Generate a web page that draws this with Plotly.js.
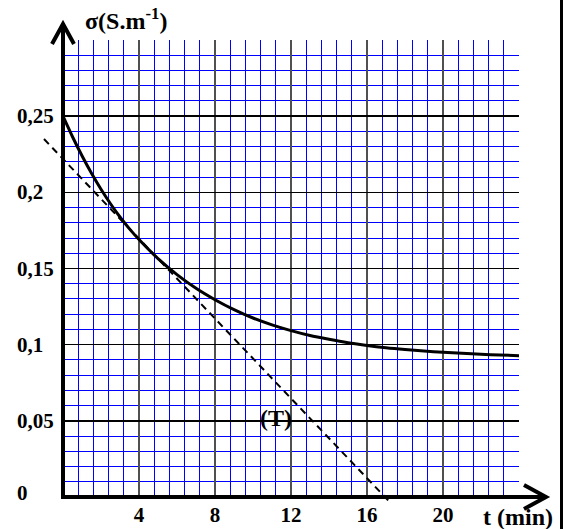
<!DOCTYPE html>
<html>
<head>
<meta charset="utf-8">
<script src="https://cdn.plot.ly/plotly-3.0.1.min.js"></script>
<style>html,body{margin:0;padding:0;background:#fff;}#chart{width:565px;height:529px;}</style>
</head>
<body>
<div id="chart"></div>
<script>
// ---- data ----
const tValues     = [0, 0.5, 1, 1.5, 2, 2.5, 3, 3.5, 4, 5, 6, 7, 8, 9, 10, 11, 12, 13, 14, 15, 16, 17, 18, 19, 20, 21, 22, 23, 24];
const sigmaValues = [0.2500, 0.2365, 0.2240, 0.2125, 0.2020, 0.1925, 0.1838, 0.1760, 0.1690, 0.1565, 0.1460, 0.1370, 0.1295, 0.1230, 0.1175, 0.1130, 0.1092, 0.1060, 0.1035, 0.1013, 0.0995, 0.0980, 0.0968, 0.0958, 0.0950, 0.0943, 0.0937, 0.0932, 0.0928];
const tangentT     = [-1, 17.15];
const tangentSigma = [0.235, -0.0027];
const xMajorStep = 4, xMinorStep = 0.8;
const yMajorStep = 0.05, yMinorStep = 0.01;
const xHiddenLabels = {'0': '', '24': ''};
const yTickVals = [0, 0.05, 0.1, 0.15, 0.2, 0.25];
const yTickText = ['0', '0,05', '0,1', '0,15', '0,2', '0,25'];
const yAxisLabel = 'σ(S.m<sup>-1</sup>)';
const xAxisLabel = 't (min)';
const tangentLabel = '(T)';

// ---- layout geometry ----
const W = 565, H = 529;
const X0 = 63, X1 = 519, Y0 = 497, Y1 = 40;   // plot box in pixels
const xMin = 0, xMax = 24, yMin = 0, yMax = 0.3;
const px = x => x / W;
const py = y => 1 - y / H;
const xPerPx = (xMax - xMin) / (X1 - X0);
const yPerPx = (yMax - yMin) / (Y0 - Y1);
const FONT = 'Liberation Serif, Times New Roman, serif';

const traces = [
  {
    x: tValues, y: sigmaValues, xaxis: 'x', yaxis: 'y',
    mode: 'lines', line: {color: '#000', width: 3, shape: 'spline', smoothing: 0.8},
    cliponaxis: false, hoverinfo: 'skip', showlegend: false
  },
  {
    x: tangentT, y: tangentSigma, xaxis: 'x2', yaxis: 'y2',
    mode: 'lines', line: {color: '#000', width: 2, dash: '7px,5px'},
    hoverinfo: 'skip', showlegend: false
  }
];

const annotations = yTickVals.map((v, i) => ({
  xref: 'paper', yref: 'y', x: px(15), y: v, xanchor: 'left', yanchor: 'middle',
  yshift: v === 0 ? 4 : 0,
  text: yTickText[i], showarrow: false,
  font: {family: FONT, size: 21, color: '#000', weight: 'bold'}
}));

annotations.push({
  xref: 'paper', yref: 'paper', x: px(481), y: py(517), xanchor: 'left', yanchor: 'middle',
  text: xAxisLabel, showarrow: false,
  font: {family: FONT, size: 24, color: '#000', weight: 'bold'}
});
annotations.push({
  xref: 'x', yref: 'y', x: 11.2, y: 0.052, xanchor: 'center', yanchor: 'middle',
  text: tangentLabel, showarrow: false,
  font: {family: FONT, size: 24, color: '#000', weight: 'bold'}
});

const shapes = [
  // vertical axis with arrow
  {type: 'line', xref: 'paper', yref: 'paper', x0: px(63), y0: py(499), x1: px(63), y1: py(25), line: {color: '#000', width: 4}},
  {type: 'path', xref: 'paper', yref: 'paper', path: `M ${px(52)},${py(44)} L ${px(63)},${py(24)} L ${px(74)},${py(44)}`, line: {color: '#000', width: 4}},
  // horizontal axis with arrow
  {type: 'line', xref: 'paper', yref: 'paper', x0: px(61), y0: py(497), x1: px(545), y1: py(497), line: {color: '#000', width: 4}},
  {type: 'path', xref: 'paper', yref: 'paper', path: `M ${px(524)},${py(485)} L ${px(546)},${py(497)} L ${px(524)},${py(509)}`, line: {color: '#000', width: 4}},
  // right frame border
  {type: 'line', xref: 'paper', yref: 'paper', x0: px(561.5), y0: 0, x1: px(561.5), y1: 1, line: {color: '#000', width: 3}}
];

const layout = {
  width: W, height: H,
  margin: {l: 0, r: 0, t: 0, b: 0, pad: 0},
  paper_bgcolor: '#fff', plot_bgcolor: 'rgba(0,0,0,0)',
  showlegend: false,
  title: {
    text: yAxisLabel, x: px(85), xanchor: 'left', y: py(21), yanchor: 'middle',
    font: {family: FONT, size: 24, color: '#000', weight: 'bold'}
  },
  xaxis: {
    domain: [px(X0), px(X1)], range: [xMin, xMax], anchor: 'y',
    tickmode: 'linear', tick0: 0, dtick: xMajorStep, labelalias: xHiddenLabels,
    ticklabelstandoff: 3,
    tickfont: {family: FONT, size: 21, color: '#000', weight: 'bold'},
    showgrid: true, gridcolor: '#505050', gridwidth: 1.5,
    minor: {tickmode: 'linear', tick0: 0, dtick: xMinorStep, showgrid: true, gridcolor: 'blue', gridwidth: 1},
    zeroline: false, showline: false
  },
  yaxis: {
    domain: [py(Y0), py(Y1)], range: [yMin, yMax], anchor: 'x',
    tickmode: 'linear', tick0: 0, dtick: yMajorStep, showticklabels: false,
    showgrid: true, gridcolor: '#000', gridwidth: 1.5,
    minor: {tickmode: 'linear', tick0: 0, dtick: yMinorStep, showgrid: true, gridcolor: 'blue', gridwidth: 1},
    zeroline: false, showline: false
  },
  xaxis2: {
    domain: [0, 1], anchor: 'y2', visible: false,
    range: [xMin - X0 * xPerPx, xMin + (W - X0) * xPerPx]
  },
  yaxis2: {
    domain: [0, 1], anchor: 'x2', visible: false,
    range: [yMin - (H - Y0) * yPerPx, yMin + Y0 * yPerPx]
  },
  annotations: annotations,
  shapes: shapes
};

Plotly.newPlot('chart', traces, layout, {displayModeBar: false, staticPlot: true});
</script>
</body>
</html>
